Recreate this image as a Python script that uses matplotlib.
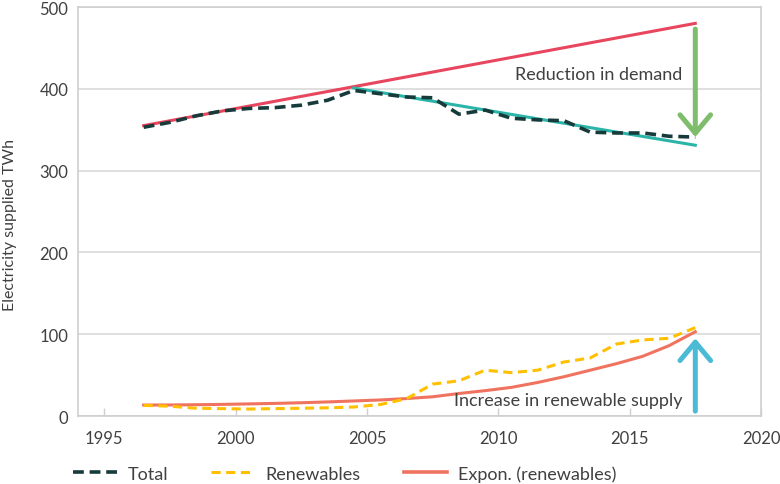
import matplotlib
matplotlib.use("Agg")
import matplotlib.pyplot as plt
from matplotlib.lines import Line2D

# Data (mid-year points)
years = [1996.5, 1997.5, 1998.5, 1999.5, 2000.5, 2001.5, 2002.5, 2003.5,
         2004.5, 2005.5, 2006.5, 2007.5, 2008.5, 2009.5, 2010.5, 2011.5,
         2012.5, 2013.5, 2014.5, 2015.5, 2016.5, 2017.5]
total = [353, 359, 367, 373, 376, 377, 380, 386, 398, 394, 390, 389,
         369, 374, 364, 362, 361, 347, 346, 346, 342, 341]
renewables = [13, 12, 9.5, 9, 8.5, 9, 9.5, 10, 11, 14, 21, 39,
              43, 56, 53, 56, 66, 71, 88, 93, 95, 108]
expon_renew = [13.4, 13.5, 13.8, 14.2, 14.8, 15.4, 16.2, 17.2, 18.4, 19.6, 21.3,
               23.5, 27.5, 31, 35, 41, 48, 56, 64, 73, 86, 103]

# linear trends drawn on the total series (start/end values)
trend_early_x = [1996.5, 2017.5]
trend_early_y = [355, 480]
trend_late_x = [2004.5, 2017.5]
trend_late_y = [401, 331]

# annotation arrows
demand_arrow = (473, 341)
supply_arrow = (6, 95)

xticks = [1995, 2000, 2005, 2010, 2015, 2020]
yticks = [0, 100, 200, 300, 400, 500]

plt.rcParams['font.family'] = ['Lato', 'DejaVu Sans']
text_col = '#404040'
grid_col = '#D9D9D9'

fig = plt.figure(figsize=(7.8, 4.85), dpi=100)
ax = fig.add_axes([0.1, 0.1402, 0.8756, 0.8433])

ax.plot(trend_early_x, trend_early_y, color='#E8465E', lw=2.2, zorder=3)
ax.plot(trend_late_x, trend_late_y, color='#2BB5A8', lw=2.2, zorder=3)
ax.plot(years, total, color='#173B3B', lw=2.6, ls=(0, (3, 1.6)), zorder=4)
ax.plot(years, renewables, color='#FFC000', lw=2.2, ls=(0, (3, 1.8)), zorder=4)
ax.plot(years, expon_renew, color='#F0735F', lw=2.2, zorder=3)

# arrows
ax.annotate('', xy=(2017.5, demand_arrow[1]), xytext=(2017.5, demand_arrow[0]),
            arrowprops=dict(arrowstyle='->,head_length=0.6,head_width=0.5',
                            color='#7DBD6B', lw=3.6, mutation_scale=22,
                            shrinkA=0, shrinkB=0), zorder=5)
ax.annotate('', xy=(2017.5, supply_arrow[1]), xytext=(2017.5, supply_arrow[0]),
            arrowprops=dict(arrowstyle='->,head_length=0.6,head_width=0.5',
                            color='#4ABAD5', lw=3.6, mutation_scale=22,
                            shrinkA=0, shrinkB=0), zorder=5)

ax.text(2017.0, 418, 'Reduction in demand', ha='right', va='center',
        fontsize=13, color=text_col, zorder=6)
ax.text(2017.0, 19, 'Increase in renewable supply', ha='right', va='center',
        fontsize=13, color=text_col, zorder=6)

ax.set_xlim(1994, 2020)
ax.set_ylim(0, 500)
ax.set_xticks(xticks)
ax.set_yticks(yticks)
ax.yaxis.grid(True, color=grid_col, lw=1.2)
ax.set_axisbelow(True)
for s in ax.spines.values():
    s.set_color('#CFCFCF')
    s.set_linewidth(1.2)
ax.tick_params(axis='x', direction='in', length=6, color='#CFCFCF', width=1,
               pad=10, labelsize=12, labelcolor=text_col)
ax.tick_params(axis='y', length=0, pad=7, labelsize=12, labelcolor=text_col)
ax.set_ylabel('Electricity supplied TWh', fontsize=11.5, color=text_col)
ax.yaxis.set_label_coords(-0.089, 0.469)

handles = [
    Line2D([], [], color='#173B3B', lw=2.6, ls=(0, (3, 1.6))),
    Line2D([], [], color='#FFC000', lw=2.2, ls=(0, (3, 1.8))),
    Line2D([], [], color='#F0735F', lw=2.6),
]
labels = ['Total', 'Renewables', 'Expon. (renewables)']
fig.legend(handles, labels, loc='center left', bbox_to_anchor=(0.087, 0.022),
           ncol=3, frameon=False, fontsize=13, handlelength=2.4,
           columnspacing=2.4, handletextpad=0.6, labelcolor=text_col,
           borderaxespad=0, borderpad=0.3)

fig.savefig('out.png', dpi=100)
